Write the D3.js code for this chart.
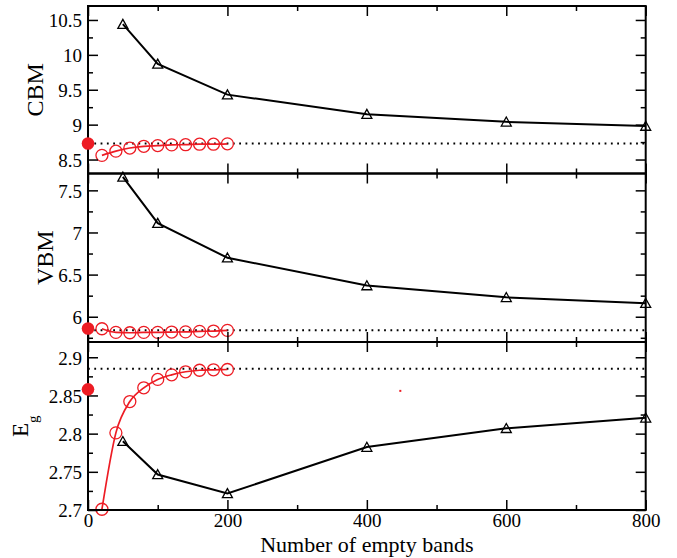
<!DOCTYPE html>
<html>
<head>
<meta charset="utf-8">
<script src="https://cdn.jsdelivr.net/npm/d3@7"></script>
<style>
  body { margin: 0; background: #fff; }
  text { font-family: "Liberation Serif", "Times New Roman", serif; fill: #000; }
</style>
</head>
<body>
<div id="chart"></div>
<script>
/* ------------------------------------------------------------------
 Data: three stacked panels sharing one x axis
 -------------------------------------------------------------------- */

var bandsBlack = [50, 100, 200, 400, 600, 800];
var bandsRed   = [20, 40, 60, 80, 100, 120, 140, 160, 180, 200];

var cbmBlack = [10.44, 9.87, 9.43, 9.15, 9.04, 8.98];
var cbmRed   = [8.56, 8.62, 8.665, 8.69, 8.70, 8.71, 8.713, 8.72, 8.72, 8.725];

var vbmBlack = [7.66, 7.11, 6.70, 6.37, 6.23, 6.16];
var vbmRed   = [5.857, 5.814, 5.81, 5.814, 5.814, 5.818, 5.82, 5.826, 5.83, 5.838];

var egBlack = [2.790, 2.7465, 2.7217, 2.7824, 2.807, 2.8207];
var egRed   = [2.701, 2.801, 2.842, 2.860, 2.871, 2.877, 2.881, 2.883, 2.8836, 2.884];

// reference value (dotted line) and the filled dot at x = 0
var refLine = [8.73, 5.84, 2.885];
var refDot  = [8.73, 5.86, 2.858];

// stray red speck in the lower panel
var speck = [{ x: 448, y: 2.856 }];

var xTicks      = [0, 200, 400, 600, 800];
var xMinorTicks = [100, 300, 500, 700];

var cbmTicks = [8.5, 9, 9.5, 10, 10.5];
var cbmMinor = [8.75, 9.25, 9.75, 10.25];
var vbmTicks = [6, 6.5, 7, 7.5];
var vbmMinor = [5.75, 6.25, 6.75, 7.25];
var egTicks  = [2.7, 2.75, 2.8, 2.85, 2.9];
var egMinor  = [2.725, 2.775, 2.825, 2.875];

var red = "#ed1c24";
var serif = '"Liberation Serif", "Times New Roman", serif';

var w = 677,
	h = 558;

var svg = d3.select("#chart")
	.append("svg")
	.attr("width", w)
	.attr("height", h);

var x = d3.scaleLinear().domain([0, 800]).range([88, 645.7]);

var panels = [
	{ name: "CBM", top: 6,     bottom: 173.5, domain: [8.3, 10.7], ticks: cbmTicks, minor: cbmMinor, black: cbmBlack, red: cbmRed, idx: 0 },
	{ name: "VBM", top: 173.5, bottom: 342,   domain: [5.7, 7.7],  ticks: vbmTicks, minor: vbmMinor, black: vbmBlack, red: vbmRed, idx: 1 },
	{ name: "Eg",  top: 342,   bottom: 510,   domain: [2.7, 2.92], ticks: egTicks,  minor: egMinor,  black: egBlack,  red: egRed,  idx: 2 }
];

var triangle = "M0,-4.8L5,4.2L-5,4.2Z";

panels.forEach(function(p) {
	var y = d3.scaleLinear().domain(p.domain).range([p.bottom, p.top]);
	var g = svg.append("g");

	// dotted reference line
	g.append("line")
		.attr("x1", x(0)).attr("x2", x(800))
		.attr("y1", y(refLine[p.idx])).attr("y2", y(refLine[p.idx]))
		.attr("stroke", "#000")
		.attr("stroke-width", 2)
		.attr("stroke-dasharray", "1.8,4.5");

	// red series (smooth)
	var redPts = bandsRed.map(function(b, i) { return [b, p.red[i]]; });
	g.append("path")
		.datum(redPts)
		.attr("fill", "none")
		.attr("stroke", red)
		.attr("stroke-width", 1.7)
		.attr("d", d3.line()
			.x(function(d) { return x(d[0]); })
			.y(function(d) { return y(d[1]); })
			.curve(d3.curveMonotoneX));

	g.selectAll("circle.redpt")
		.data(redPts)
		.enter()
		.append("circle")
		.attr("class", "redpt")
		.attr("cx", function(d) { return x(d[0]); })
		.attr("cy", function(d) { return y(d[1]); })
		.attr("r", 6)
		.attr("fill", "none")
		.attr("stroke", red)
		.attr("stroke-width", 1.3);

	// black series (straight segments)
	var blackPts = bandsBlack.map(function(b, i) { return [b, p.black[i]]; });
	g.append("path")
		.datum(blackPts)
		.attr("fill", "none")
		.attr("stroke", "#000")
		.attr("stroke-width", 2)
		.attr("d", d3.line()
			.x(function(d) { return x(d[0]); })
			.y(function(d) { return y(d[1]); }));

	g.selectAll("path.tri")
		.data(blackPts)
		.enter()
		.append("path")
		.attr("class", "tri")
		.attr("d", triangle)
		.attr("transform", function(d) { return "translate(" + x(d[0]) + "," + y(d[1]) + ")"; })
		.attr("fill", "none")
		.attr("stroke", "#000")
		.attr("stroke-width", 1.3);

	// frame
	g.append("rect")
		.attr("x", x(0)).attr("y", p.top)
		.attr("width", x(800) - x(0)).attr("height", p.bottom - p.top)
		.attr("fill", "none")
		.attr("stroke", "#000")
		.attr("stroke-width", 2);

	// ticks, all pointing inward
	function tickAxis(axis, tx, ty, size, vals, labels, pad) {
		var a = g.append("g")
			.attr("transform", "translate(" + tx + "," + ty + ")")
			.call(axis.tickValues(vals).tickSize(-size).tickPadding(pad || 6)
				.tickFormat(labels ? function(d) { return String(d); } : ""));
		a.select(".domain").remove();
		a.attr("font-family", null).attr("font-size", null);
		a.selectAll("line").attr("stroke", "#000").attr("stroke-width", 1.5);
		a.selectAll("text")
			.style("font-family", serif)
			.style("font-size", "19px");
		return a;
	}

	var yl = tickAxis(d3.axisLeft(y), x(0), 0, 10, p.ticks, true);
	yl.selectAll("text").attr("dy", "0.36em");
	tickAxis(d3.axisLeft(y), x(0), 0, 5, p.minor, false);
	tickAxis(d3.axisRight(y), x(800), 0, 10, p.ticks, false);
	tickAxis(d3.axisRight(y), x(800), 0, 5, p.minor, false);
	tickAxis(d3.axisTop(x), 0, p.top, 10, xTicks, false);
	tickAxis(d3.axisTop(x), 0, p.top, 5, xMinorTicks, false);
	tickAxis(d3.axisBottom(x), 0, p.bottom, 10, xTicks, p.idx === 2, 3);
	tickAxis(d3.axisBottom(x), 0, p.bottom, 5, xMinorTicks, false);

	// filled reference dot on the y axis
	g.append("circle")
		.attr("cx", x(0))
		.attr("cy", y(refDot[p.idx]))
		.attr("r", 6.3)
		.attr("fill", red);

	if (p.idx === 2) {
		g.selectAll("rect.speck")
			.data(speck)
			.enter()
			.append("rect")
			.attr("class", "speck")
			.attr("x", function(d) { return x(d.x) - 1; })
			.attr("y", function(d) { return y(d.y) - 1; })
			.attr("width", 2).attr("height", 2)
			.attr("fill", red);
	}
});

/* ------------------------------------------------------------------
 Axis titles
 -------------------------------------------------------------------- */

svg.append("text")
	.attr("transform", "translate(43," + (6 + 173.5) / 2 + ") rotate(-90)")
	.attr("text-anchor", "middle")
	.attr("font-size", 24)
	.text("CBM");

svg.append("text")
	.attr("transform", "translate(53," + (173.5 + 342) / 2 + ") rotate(-90)")
	.attr("text-anchor", "middle")
	.attr("font-size", 24)
	.text("VBM");

var eg = svg.append("text")
	.attr("transform", "translate(28,437) rotate(-90)")
	.attr("font-size", 23);
eg.append("tspan").text("E");
eg.append("tspan").attr("font-size", 15).attr("dy", 10).text("g");

svg.append("text")
	.attr("x", (x(0) + x(800)) / 2)
	.attr("y", 552)
	.attr("text-anchor", "middle")
	.attr("font-size", 22)
	.text("Number of empty bands");
</script>
</body>
</html>
